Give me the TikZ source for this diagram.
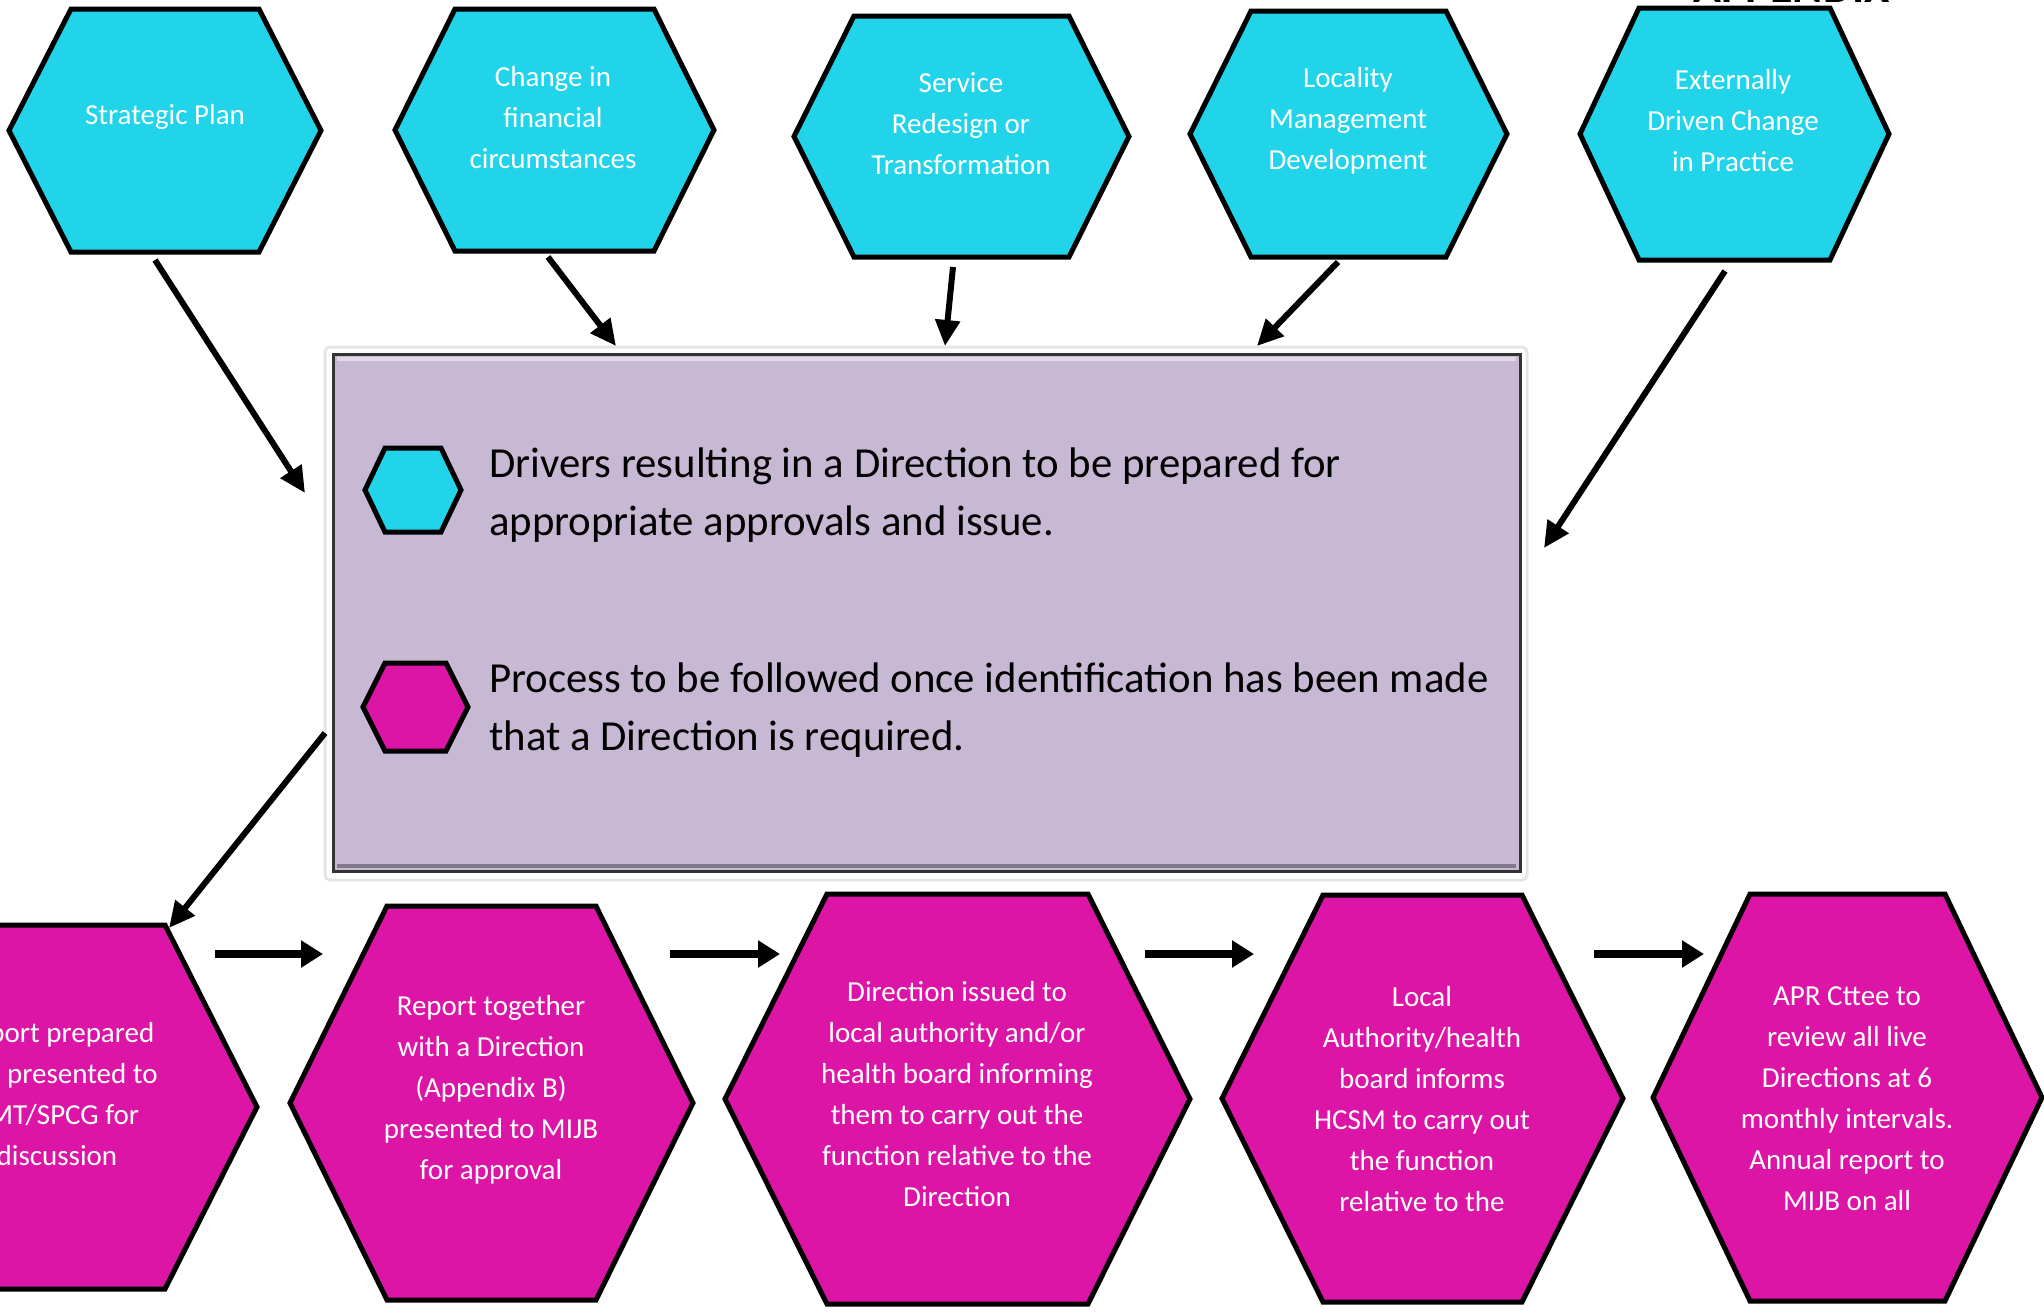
\documentclass[tikz,border=0pt]{standalone}
\usepackage{fontspec}
\setmainfont{Carlito}
\usetikzlibrary{arrows.meta}
\definecolor{drvcyan}{RGB}{33,212,234}
\definecolor{procmag}{RGB}{220,21,167}
\definecolor{lav}{RGB}{199,185,211}
\tikzset{
  hexline/.style={draw=black, line width=5pt, line join=miter},
  hextext/.style={text=white, align=center, font=\fontsize{29}{41}\selectfont, inner sep=0pt},
  legtext/.style={anchor=base west, font=\fontsize{42.8}{58}\selectfont, inner sep=0pt, text=black},
  darr/.style={line width=6pt, -{Triangle[length=26pt,width=24pt]}},
  harr/.style={line width=8pt, -{Triangle[length=22pt,width=26pt]}},
}
% #1 name, #2 left, #3 right, #4 top, #5 bottom, #6 inset, #7 fill
\newcommand{\hexa}[7]{%
  \draw[hexline, fill=#7] ({#2},{(#4+#5)/2}) coordinate (#1-w)
    -- ({#2+#6},{#4}) -- ({#3-#6},{#4}) -- ({#3},{(#4+#5)/2}) coordinate (#1-e)
    -- ({#3-#6},{#5}) -- ({#2+#6},{#5}) -- cycle;}
\begin{document}
\begin{tikzpicture}[x=1pt,y=-1pt]
\useasboundingbox (0,0) rectangle (2044,1312);

% partially visible heading (cut off at the top edge)
\node[anchor=base east, inner sep=0pt, font=\fontsize{46}{52}\selectfont\bfseries] (appx) at (1890,2.5) {APPENDIX};

% ---------- driver hexagons ----------
\hexa{T1}{9}{321}{9}{252}{62}{drvcyan}
\hexa{T2}{395}{714}{9}{251}{60}{drvcyan}
\hexa{T3}{794}{1129}{16}{257}{60}{drvcyan}
\hexa{T4}{1190}{1507}{11}{257}{61}{drvcyan}
\hexa{T5}{1580}{1889}{8}{260}{59}{drvcyan}
\node[hextext] (t1) at (165,117) {Strategic Plan};
\node[hextext] (t2) at (553,118) {Change in\\financial\\circumstances};
\node[hextext] (t3) at (961,124) {Service\\Redesign or\\Transformation};
\node[hextext] (t4) at (1348,121) {Locality\\Management\\Development};
\node[hextext] (t5) at (1733,121) {Externally\\Driven Change\\in Practice};

% ---------- legend box ----------
\draw[draw=black!10, line width=3pt, fill=white, rounded corners=5pt] (325,347) rectangle (1527,880);
\draw[draw=black!80, line width=3pt, fill=lav] (333,354) coordinate (boxNW) rectangle (1520,871) coordinate (boxSE);
\draw[draw=lav!55!white, line width=4pt] (337,359) -- (1516,359);
\draw[draw=lav!65!black, line width=4pt] (337,866) -- (1516,866);
\hexa{LC}{365}{461}{448}{532}{20}{drvcyan}
\hexa{LM}{363}{468}{663}{751}{22}{procmag}
\node[legtext] (l1a) at (489,477) {Drivers resulting in a Direction to be prepared for};
\node[legtext] (l1b) at (489,535) {appropriate approvals and issue.};
\node[legtext] (l2a) at (489,692) {Process to be followed once identification has been made};
\node[legtext] (l2b) at (489,750) {that a Direction is required.};

% ---------- process hexagons ----------
\hexa{B1}{-147}{257}{925}{1289}{92}{procmag}
\hexa{B2}{290}{693}{906}{1300}{97}{procmag}
\hexa{B3}{725}{1190}{894}{1304}{102}{procmag}
\hexa{B4}{1222}{1623}{895}{1302}{101}{procmag}
\hexa{B5}{1653}{2042}{894}{1301}{97}{procmag}
\node[hextext] (b1) at (57,1094) {Report prepared\\and presented to\\SMT/SPCG for\\discussion};
\node[hextext] (b2) at (491,1090) {Report together\\with a Direction\\(Appendix B)\\presented to MIJB\\for approval};
\node[hextext] (b3) at (957,1094) {Direction issued to\\local authority and/or\\health board informing\\them to carry out the\\function relative to the\\Direction};
\node[hextext] (b4) at (1422,1099) {Local\\Authority/health\\board informs\\HCSM to carry out\\the function\\relative to the};
\node[hextext] (b5) at (1847,1099) {APR Cttee to\\review all live\\Directions at 6\\monthly intervals.\\Annual report to\\MIJB on all};

% ---------- connector end points ----------
\coordinate (a1s) at (155,260);  \coordinate (a1e) at (305,493);
\coordinate (a2s) at (548,257);  \coordinate (a2e) at (616,346);
\coordinate (a3s) at (953,267);  \coordinate (a3e) at (945,346);
\coordinate (a4s) at (1338,262); \coordinate (a4e) at (1257,346);
\coordinate (a5s) at (1725,271); \coordinate (a5e) at (1544,548);
\coordinate (a6s) at (325,733);  \coordinate (a6e) at (169,928);
\coordinate (h1s) at (215,954);  \coordinate (h1e) at (323,954);
\coordinate (h2s) at (670,954);  \coordinate (h2e) at (780,954);
\coordinate (h3s) at (1145,954); \coordinate (h3e) at (1254,954);
\coordinate (h4s) at (1594,954); \coordinate (h4e) at (1704,954);

\draw[darr] (a1s) -- (a1e);
\draw[darr] (a2s) -- (a2e);
\draw[darr] (a3s) -- (a3e);
\draw[darr] (a4s) -- (a4e);
\draw[darr] (a5s) -- (a5e);
\draw[darr] (a6s) -- (a6e);
\draw[harr] (h1s) -- (h1e);
\draw[harr] (h2s) -- (h2e);
\draw[harr] (h3s) -- (h3e);
\draw[harr] (h4s) -- (h4e);
\end{tikzpicture}
\end{document}
